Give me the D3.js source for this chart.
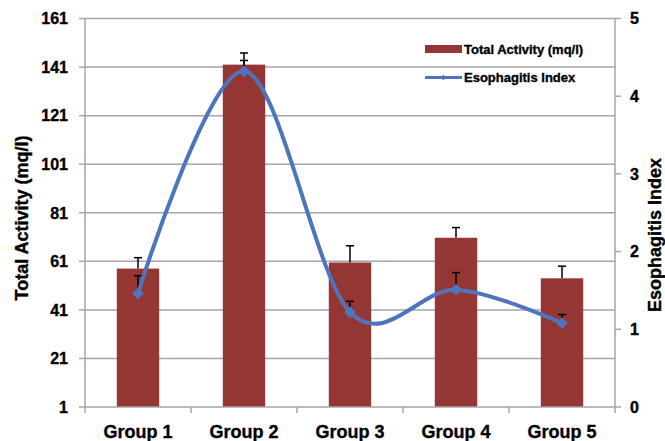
<!DOCTYPE html>
<html>
<head>
<meta charset="utf-8">
<script src="https://d3js.org/d3.v7.min.js"></script>
<style>
  body { margin: 0; background: #fff; }
  text { font-family: Arial, 'Liberation Sans', sans-serif; font-weight: bold; fill: #000; stroke: #000; stroke-width: 0.35px; }
</style>
</head>
<body>
<svg width="665" height="441"></svg>
<script>
// data
var groups = ["Group 1", "Group 2", "Group 3", "Group 4", "Group 5"];
var activity = [58, 142, 60.5, 70.7, 54];
var activityErr = [4.5, 4.8, 6.9, 4.2, 5];
var esoIndex = [1.46, 4.32, 1.22, 1.51, 1.08];
var esoErr = [0.23, 0.14, 0.14, 0.22, 0.11];
var leftTicks = [1, 21, 41, 61, 81, 101, 121, 141, 161];
var rightTicks = [0, 1, 2, 3, 4, 5];

var svg = d3.select("svg");
var plotL = 85, plotR = 615, plotT = 18.5, plotB = 407;
var barColor = "#943634", lineColor = "#4f74bd", gridColor = "#a6a6a6";

var x = d3.scaleBand().domain(groups).range([plotL, plotR]).paddingInner(0.6).paddingOuter(0.3);
var xb = d3.scaleBand().domain(groups).range([plotL, plotR]);
var yL = d3.scaleLinear().domain([1, 161]).range([plotB, plotT]);
var yR = d3.scaleLinear().domain([0, 5]).range([plotB, plotT]);

// gridlines
svg.append("g").selectAll("line").data(leftTicks.slice(1)).join("line")
  .attr("x1", plotL).attr("x2", plotR)
  .attr("y1", d => yL(d)).attr("y2", d => yL(d))
  .attr("stroke", gridColor).attr("stroke-width", 1.5);

// bars
svg.append("g").selectAll("rect").data(activity).join("rect")
  .attr("x", (d, i) => x(groups[i]))
  .attr("width", x.bandwidth())
  .attr("y", d => yL(d))
  .attr("height", d => yL(1) - yL(d))
  .attr("fill", barColor);

// error bars (plus side only)
var eb = svg.append("g").attr("stroke", "#000").attr("stroke-width", 1.5);
function errBar(cx, y0, y1) {
  eb.append("line").attr("x1", cx).attr("x2", cx).attr("y1", y0).attr("y2", y1);
  eb.append("line").attr("x1", cx - 4).attr("x2", cx + 4).attr("y1", y1).attr("y2", y1);
}
activity.forEach(function(d, i) {
  var cx = xb(groups[i]) + xb.bandwidth() / 2;
  errBar(cx, yL(d), yL(d + activityErr[i]));
});
esoIndex.forEach(function(d, i) {
  var cx = xb(groups[i]) + xb.bandwidth() / 2;
  errBar(cx, yR(d), yR(d + esoErr[i]));
});

// axis lines and ticks
var ax = svg.append("g").attr("stroke", gridColor).attr("stroke-width", 1.5);
ax.append("line").attr("x1", plotL).attr("x2", plotL).attr("y1", plotT).attr("y2", plotB + 6);
ax.append("line").attr("x1", plotR).attr("x2", plotR).attr("y1", plotT).attr("y2", plotB + 6);
ax.append("line").attr("x1", plotL).attr("x2", plotR).attr("y1", plotB).attr("y2", plotB);
ax.selectAll(".lt").data(leftTicks).join("line").attr("class", "lt")
  .attr("x1", plotL - 6).attr("x2", plotL).attr("y1", d => yL(d)).attr("y2", d => yL(d));
ax.selectAll(".rt").data(rightTicks).join("line").attr("class", "rt")
  .attr("x1", plotR).attr("x2", plotR + 6).attr("y1", d => yR(d)).attr("y2", d => yR(d));
ax.selectAll(".bt").data(groups.slice(1)).join("line").attr("class", "bt")
  .attr("x1", d => xb(d)).attr("x2", d => xb(d)).attr("y1", plotB).attr("y2", plotB + 6);

// tick labels
svg.append("g").selectAll("text").data(leftTicks).join("text")
  .attr("x", 68).attr("y", d => yL(d)).attr("dy", "0.36em")
  .attr("text-anchor", "end").style("font-size", "16px").text(d => d);
svg.append("g").selectAll("text").data(rightTicks).join("text")
  .attr("x", 630).attr("y", d => yR(d)).attr("dy", "0.36em")
  .style("font-size", "16px").text(d => d);
svg.append("g").selectAll("text").data(groups).join("text")
  .attr("x", d => xb(d) + xb.bandwidth() / 2).attr("y", 438)
  .attr("text-anchor", "middle").style("font-size", "18px").text(d => d);

// axis titles
svg.append("text").attr("transform", "translate(28,218) rotate(-90)")
  .attr("text-anchor", "middle").style("font-size", "18px").text("Total Activity (mq/l)");
svg.append("text").attr("transform", "translate(661,235) rotate(-90)")
  .attr("text-anchor", "middle").style("font-size", "18px").text("Esophagitis Index");

// index line
var pts = esoIndex.map((d, i) => [xb(groups[i]) + xb.bandwidth() / 2, yR(d)]);
svg.append("path").datum(pts)
  .attr("d", d3.line().curve(d3.curveCardinal.tension(0)))
  .attr("fill", "none").attr("stroke", lineColor).attr("stroke-width", 4);
svg.append("g").selectAll("path").data(pts).join("path")
  .attr("transform", d => "translate(" + d[0] + "," + d[1] + ")")
  .attr("d", d3.symbol(d3.symbolDiamond2, 90))
  .attr("fill", lineColor);

// legend
var lg = svg.append("g");
lg.append("rect").attr("x", 425).attr("y", 45).attr("width", 37).attr("height", 8).attr("fill", barColor);
lg.append("text").attr("x", 464).attr("y", 54).style("font-size", "13px").text("Total Activity (mq/l)");
lg.append("line").attr("x1", 425).attr("x2", 462).attr("y1", 77.5).attr("y2", 77.5)
  .attr("stroke", lineColor).attr("stroke-width", 3);
lg.append("path").attr("transform", "translate(443.5,77.5)")
  .attr("d", d3.symbol(d3.symbolDiamond2, 20)).attr("fill", lineColor);
lg.append("text").attr("x", 464).attr("y", 82).style("font-size", "13px").text("Esophagitis Index");
</script>
</body>
</html>
